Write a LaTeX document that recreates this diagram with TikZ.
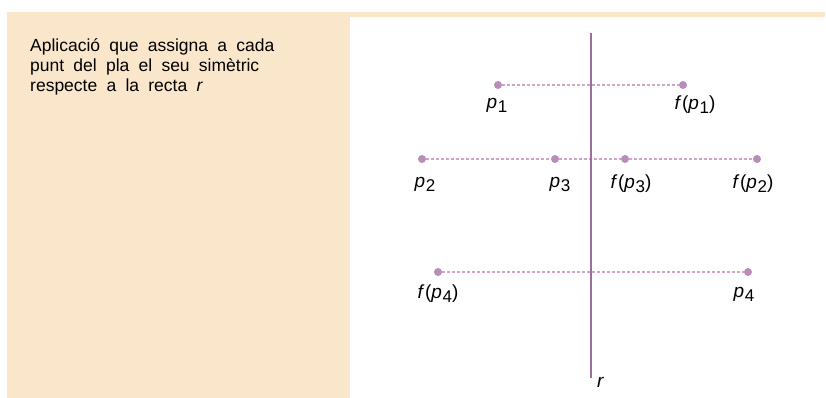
\documentclass[tikz,border=0pt]{standalone}
\usepackage{fontspec}
\setmainfont{Liberation Sans}
\newfontfamily\bodyfont[WordSpace=1.9]{Liberation Sans}
\newfontfamily\labfont[LetterSpace=3]{Liberation Sans}
\definecolor{beige}{RGB}{250,230,203}
\definecolor{axis}{RGB}{155,110,155}
\definecolor{pt}{RGB}{185,140,185}
\definecolor{dotl}{RGB}{205,165,205}
\newcommand{\mysub}[1]{\raisebox{-4pt}{\fontsize{17}{17}\selectfont #1}}
\begin{document}
\begin{tikzpicture}[x=1pt,y=-1pt,
  dotpt/.style={circle,fill=pt,inner sep=0pt,minimum size=8pt},
  joinline/.style={dotl,line width=1.3pt,dash pattern=on 3pt off 2pt},
  lab/.style={font=\labfont\fontsize{19}{21}\selectfont,inner sep=0pt}]
\useasboundingbox (0,0) rectangle (826,398);
\fill[beige] (7,12) rectangle (350,398);
\fill[beige] (350,12) rectangle (825,17);
\node[anchor=north west,align=left,font=\bodyfont\fontsize{17.5}{20}\selectfont,inner sep=0pt] (txt) at (30,38)
  {Aplicació que assigna a cada\\punt del pla el seu simètric\\respecte a la recta \textit{r}};
% points
\node[dotpt] (p1) at (498,85) {};
\node[dotpt] (fp1) at (683,85) {};
\node[dotpt] (p2) at (422,159) {};
\node[dotpt] (p3) at (555,159) {};
\node[dotpt] (fp3) at (625,159) {};
\node[dotpt] (fp2) at (757,159) {};
\node[dotpt] (fp4) at (438,272) {};
\node[dotpt] (p4) at (748,272) {};
\draw[joinline] (p1) -- (fp1);
\draw[joinline] (p2) -- (p3);
\draw[joinline] (p3) -- (fp3);
\draw[joinline] (fp3) -- (fp2);
\draw[joinline] (fp4) -- (p4);
% axis
\coordinate (rtop) at (591,33);
\coordinate (rbot) at (591,378);
\draw[axis,line width=2.6pt] (rtop) -- (rbot);
\node[lab] (rl) at (601,382) {\textit{r}};
% labels
\node[lab] (lp1) at (497,105) {\textit{p}\mysub{1}};
\node[lab] (lfp1) at (695,105) {\textit{f}(\textit{p}\mysub{1})};
\node[lab] (lp2) at (425,184) {\textit{p}\mysub{2}};
\node[lab] (lp3) at (560,184) {\textit{p}\mysub{3}};
\node[lab] (lfp3) at (631,184) {\textit{f}(\textit{p}\mysub{3})};
\node[lab] (lfp2) at (753,184) {\textit{f}(\textit{p}\mysub{2})};
\node[lab] (lfp4) at (438,294) {\textit{f}(\textit{p}\mysub{4})};
\node[lab] (lp4) at (744,294) {\textit{p}\mysub{4}};
\end{tikzpicture}
\end{document}
